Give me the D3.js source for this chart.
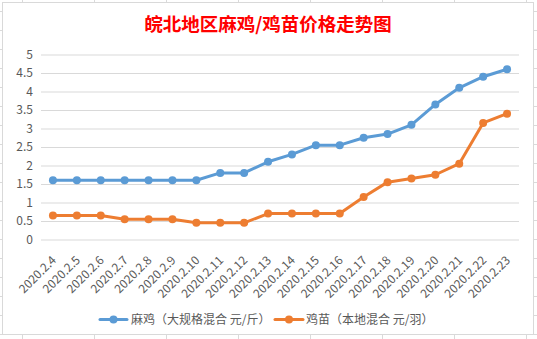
<!DOCTYPE html>
<html>
<head>
<meta charset="utf-8">
<script src="https://cdn.jsdelivr.net/npm/d3@7/dist/d3.min.js"></script>
<style>
  html, body { margin: 0; padding: 0; background: #fff; }
  svg { display: block; }
  text { font-family: "Noto Sans CJK SC", "Noto Sans", sans-serif; }
</style>
</head>
<body>
<svg id="chart" width="537" height="339"></svg>
<script>
const categories = ["2020.2.4","2020.2.5","2020.2.6","2020.2.7","2020.2.8","2020.2.9","2020.2.10","2020.2.11","2020.2.12","2020.2.13","2020.2.14","2020.2.15","2020.2.16","2020.2.17","2020.2.18","2020.2.19","2020.2.20","2020.2.21","2020.2.22","2020.2.23"];
const majiValues = [1.6,1.6,1.6,1.6,1.6,1.6,1.6,1.8,1.8,2.1,2.3,2.55,2.55,2.75,2.85,3.1,3.65,4.1,4.4,4.6];
const jimiaoValues = [0.65,0.65,0.65,0.55,0.55,0.55,0.45,0.45,0.45,0.7,0.7,0.7,0.7,1.15,1.55,1.65,1.75,2.05,3.15,3.4];
const seriesNames = ["麻鸡（大规格混合 元/斤）","鸡苗（本地混合 元/羽）"];
const yTicks = [0,0.5,1,1.5,2,2.5,3,3.5,4,4.5,5];
const titleText = "皖北地区麻鸡/鸡苗价格走势图";

const W = 537, H = 339;
const svg = d3.select("#chart");
const colors = ["#5B9BD5", "#ED7D31"];
const textColor = "#595959";

// spreadsheet background grid
const sheet = svg.append("g");
d3.range(22, W, 72).forEach(x => sheet.append("line").attr("x1", x + 0.5).attr("x2", x + 0.5).attr("y1", 0).attr("y2", H).attr("stroke", "#dadada"));
d3.range(11, H, 19).forEach(y => sheet.append("line").attr("y1", y + 0.5).attr("y2", y + 0.5).attr("x1", 0).attr("x2", W).attr("stroke", "#dadada"));

// chart area
svg.append("rect").attr("x", 2.5).attr("y", 2.5).attr("width", 531).attr("height", 332)
  .attr("fill", "#fff").attr("stroke", "#d9d9d9");

// title
svg.append("text").attr("x", 268).attr("y", 31).attr("text-anchor", "middle")
  .attr("fill", "#FF0000").attr("font-size", 18.5).attr("font-weight", "bold")
  .text(titleText);

const x = d3.scaleBand().domain(categories).range([41, 519]);
const y = d3.scaleLinear().domain([0, 5]).range([239.5, 54.5]);
const cx = d => x(d) + x.bandwidth() / 2;

// gridlines
const yAxis = d3.axisLeft(y).tickValues(yTicks).tickSize(-(519 - 41)).tickFormat(d3.format("~g")).tickPadding(8);
const ya = svg.append("g").attr("transform", "translate(41,0)").call(yAxis);
ya.select(".domain").remove();
ya.selectAll(".tick line").attr("stroke", "#d9d9d9").attr("stroke-width", 1);
ya.selectAll(".tick text").attr("fill", textColor).attr("font-size", 12)
  .attr("font-family", "'Noto Sans CJK SC', sans-serif");

// x axis labels
const xAxis = d3.axisBottom(x).tickSize(0).tickPadding(0);
const xa = svg.append("g").attr("transform", "translate(0,239.5)").call(xAxis);
xa.select(".domain").remove();
xa.selectAll(".tick text")
  .attr("fill", textColor).attr("font-size", 12)
  .attr("font-family", "'Noto Sans CJK SC', sans-serif")
  .attr("text-anchor", "end")
  .attr("dy", 0)
  .attr("y", 0)
  .attr("transform", "translate(4,21.5) rotate(-45)");

// lines
const series = [majiValues, jimiaoValues];
series.forEach((vals, i) => {
  const data = categories.map((c, j) => ({ c, v: vals[j] }));
  svg.append("path").datum(data)
    .attr("fill", "none").attr("stroke", colors[i]).attr("stroke-width", 3)
    .attr("stroke-linejoin", "round").attr("stroke-linecap", "round")
    .attr("d", d3.line().x(d => cx(d.c)).y(d => y(d.v)));
  svg.append("g").selectAll("circle").data(data).join("circle")
    .attr("cx", d => cx(d.c)).attr("cy", d => y(d.v)).attr("r", 4)
    .attr("fill", colors[i]);
});

// legend
const legendItems = [
  { x0: 100, x1: 127, tx: 131 },
  { x0: 275, x1: 303, tx: 306 }
];
legendItems.forEach((it, i) => {
  const g = svg.append("g");
  g.append("line").attr("x1", it.x0).attr("x2", it.x1).attr("y1", 319.5).attr("y2", 319.5)
    .attr("stroke", colors[i]).attr("stroke-width", 3).attr("stroke-linecap", "round");
  g.append("circle").attr("cx", (it.x0 + it.x1) / 2).attr("cy", 319.5).attr("r", 4).attr("fill", colors[i]);
  g.append("text").attr("x", it.tx).attr("y", 319.5).attr("dy", "0.35em")
    .attr("fill", textColor).attr("font-size", 12).text(seriesNames[i]);
});
</script>
</body>
</html>
